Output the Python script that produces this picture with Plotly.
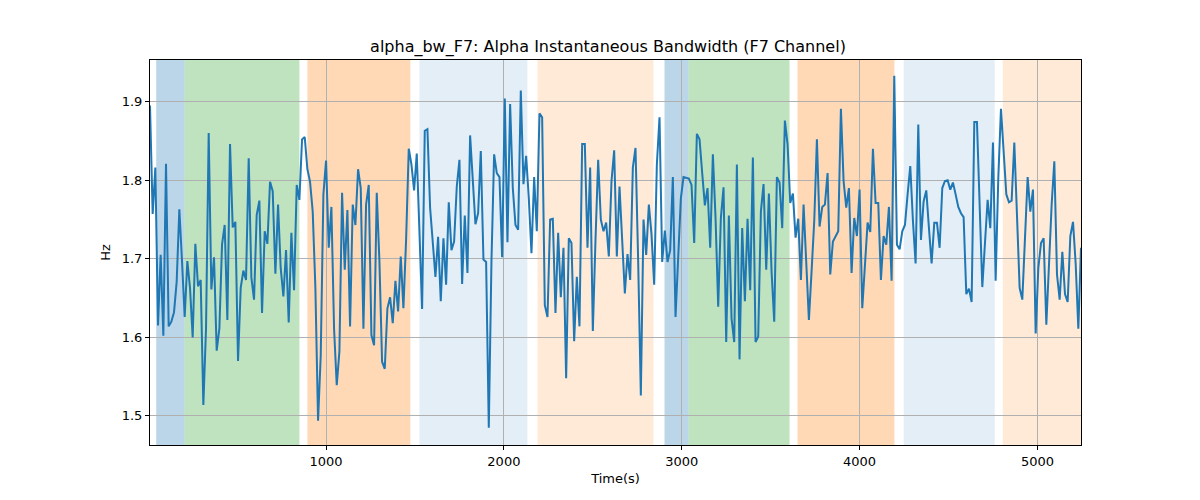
import numpy as np
import plotly.graph_objects as go

# ---- data ----
seg1 = [1.895, 1.757, 1.816, 1.615, 1.705, 1.602, 1.821, 1.614, 1.620, 1.632,
        1.671, 1.763, 1.697, 1.626, 1.697, 1.663, 1.600, 1.719, 1.665, 1.673,
        1.514, 1.611, 1.860, 1.661, 1.702, 1.583, 1.611, 1.718, 1.743, 1.622,
        1.846, 1.740, 1.747, 1.570, 1.663, 1.685, 1.673, 1.828, 1.676, 1.648,
        1.756, 1.774, 1.631, 1.735, 1.719, 1.798, 1.786, 1.681, 1.769, 1.688,
        1.652, 1.711, 1.619, 1.733, 1.660, 1.794, 1.775, 1.852, 1.855]
seg2 = [1.814, 1.798, 1.760, 1.663, 1.494, 1.577, 1.782, 1.825, 1.714, 1.766,
        1.611, 1.539, 1.582, 1.784, 1.686, 1.762, 1.614, 1.769, 1.743, 1.814,
        1.790, 1.611, 1.769, 1.794, 1.603, 1.590, 1.784, 1.697, 1.569, 1.560,
        1.637, 1.651, 1.618, 1.672, 1.633, 1.703, 1.637, 1.724, 1.840, 1.820,
        1.787, 1.834, 1.724, 1.636, 1.863, 1.865, 1.765, 1.714, 1.677, 1.728,
        1.646, 1.726, 1.667, 1.772, 1.711, 1.722]
seg3 = [1.792, 1.826, 1.668, 1.755, 1.682, 1.857, 1.799, 1.744, 1.758, 1.837,
        1.699, 1.696, 1.485, 1.697, 1.833, 1.809, 1.804, 1.702, 1.904, 1.721,
        1.897, 1.790, 1.743, 1.737, 1.914, 1.795, 1.831, 1.777, 1.707, 1.804,
        1.735, 1.885, 1.880, 1.641, 1.626, 1.750, 1.751, 1.631, 1.733, 1.651,
        1.714, 1.548, 1.726, 1.720, 1.595, 1.677, 1.614, 1.846, 1.846, 1.714,
        1.816, 1.608, 1.724, 1.826, 1.750, 1.735]
seg4 = [1.746, 1.703, 1.799, 1.838, 1.703, 1.792, 1.724, 1.656, 1.706, 1.673,
        1.816, 1.841, 1.697, 1.526, 1.750, 1.705, 1.769, 1.731, 1.667, 1.820,
        1.880, 1.696, 1.736, 1.696, 1.711, 1.804, 1.626, 1.705, 1.777, 1.804,
        1.803, 1.802, 1.794, 1.720, 1.859, 1.852, 1.809, 1.768, 1.790, 1.714,
        1.833, 1.752, 1.639, 1.752, 1.791, 1.594, 1.755, 1.624, 1.594, 1.820,
        1.572, 1.739, 1.646, 1.751, 1.660, 1.829, 1.594]
seg5 = [1.601, 1.760, 1.795, 1.686, 1.783, 1.684, 1.620, 1.804, 1.797, 1.739,
        1.876, 1.846, 1.771, 1.783, 1.727, 1.751, 1.673, 1.769, 1.684, 1.622,
        1.684, 1.748, 1.852, 1.741, 1.766, 1.769, 1.809, 1.680, 1.722, 1.729,
        1.735, 1.891, 1.799, 1.765, 1.790, 1.682, 1.752, 1.729, 1.788, 1.637,
        1.697, 1.746, 1.734, 1.840, 1.771, 1.771, 1.673, 1.729, 1.718, 1.766,
        1.672, 1.933, 1.718, 1.712, 1.735, 1.743]
seg6 = [1.782, 1.818, 1.748, 1.694, 1.871, 1.724, 1.773, 1.787, 1.739, 1.694,
        1.746, 1.746, 1.714, 1.790, 1.799, 1.800, 1.788, 1.797, 1.782, 1.766,
        1.758, 1.753, 1.655, 1.662, 1.645, 1.874, 1.874, 1.769, 1.664, 1.720,
        1.775, 1.739, 1.848, 1.672, 1.803, 1.891, 1.833, 1.782, 1.772, 1.774,
        1.848, 1.752, 1.663, 1.648, 1.722, 1.804, 1.760, 1.788, 1.605, 1.688,
        1.720, 1.726, 1.616, 1.697, 1.769, 1.824, 1.680, 1.648, 1.709, 1.655,
        1.645, 1.729, 1.747, 1.694, 1.611, 1.714]
values = seg1 + seg2 + seg3 + seg4 + seg5 + seg6
t_start, t_step = 10.0, 15.0
time = t_start + t_step * np.arange(len(values))
t_end = float(time[-1])

# shaded spans: (start, end, colour)
span_starts = [45, 204, 895, 1525, 2189, 2903, 3038, 3651, 4248, 4805]
span_ends = [204, 850, 1474, 2132, 2841, 3038, 3606, 4196, 4760, t_end]
span_colors = ["rgba(31,119,180,0.3)", "rgba(44,160,44,0.3)", "rgba(255,127,14,0.3)",
               "rgba(31,119,180,0.12)", "rgba(255,127,14,0.16)",
               "rgba(31,119,180,0.3)", "rgba(44,160,44,0.3)", "rgba(255,127,14,0.3)",
               "rgba(31,119,180,0.12)", "rgba(255,127,14,0.16)"]

x_ticks = [1000, 2000, 3000, 4000, 5000]
y_ticks = [1.5, 1.6, 1.7, 1.8, 1.9]

fig = go.Figure()
fig.add_trace(go.Scatter(x=time, y=values, mode="lines",
                         line=dict(color="#1f77b4", width=2), showlegend=False))

for s, e, c in zip(span_starts, span_ends, span_colors):
    fig.add_shape(type="rect", xref="x", yref="paper", x0=s, x1=e, y0=0, y1=1,
                  fillcolor=c, line=dict(width=0), layer="below")

font = "DejaVu Sans"
fig.update_layout(
    width=1200, height=500,
    margin=dict(l=142, r=127, t=52, b=63),
    paper_bgcolor="white", plot_bgcolor="white",
    font=dict(family=font, size=13, color="black"),
    title=dict(text="alpha_bw_F7: Alpha Instantaneous Bandwidth (F7 Channel)",
               x=0.5, xanchor="center", y=0.924, yanchor="middle",
               font=dict(size=16, family=font)),
)
fig.update_xaxes(range=[t_start, t_end], tickvals=x_ticks,
                 showgrid=True, gridcolor="#b0b0b0", gridwidth=1,
                 showline=True, linecolor="black", linewidth=1, mirror=True,
                 ticks="outside", ticklen=4, tickcolor="black", zeroline=False,
                 title=dict(text="Time(s)", font=dict(size=13), standoff=6),
                 tickfont=dict(size=13))
fig.update_yaxes(range=[1.463, 1.953], tickvals=y_ticks,
                 tickformat=".1f",
                 showgrid=True, gridcolor="#b0b0b0", gridwidth=1,
                 showline=True, linecolor="black", linewidth=1, mirror=True,
                 ticks="outside", ticklen=4, tickcolor="black", zeroline=False,
                 title=dict(text="Hz", font=dict(size=13), standoff=8),
                 tickfont=dict(size=13))

fig.write_html("out.html")
